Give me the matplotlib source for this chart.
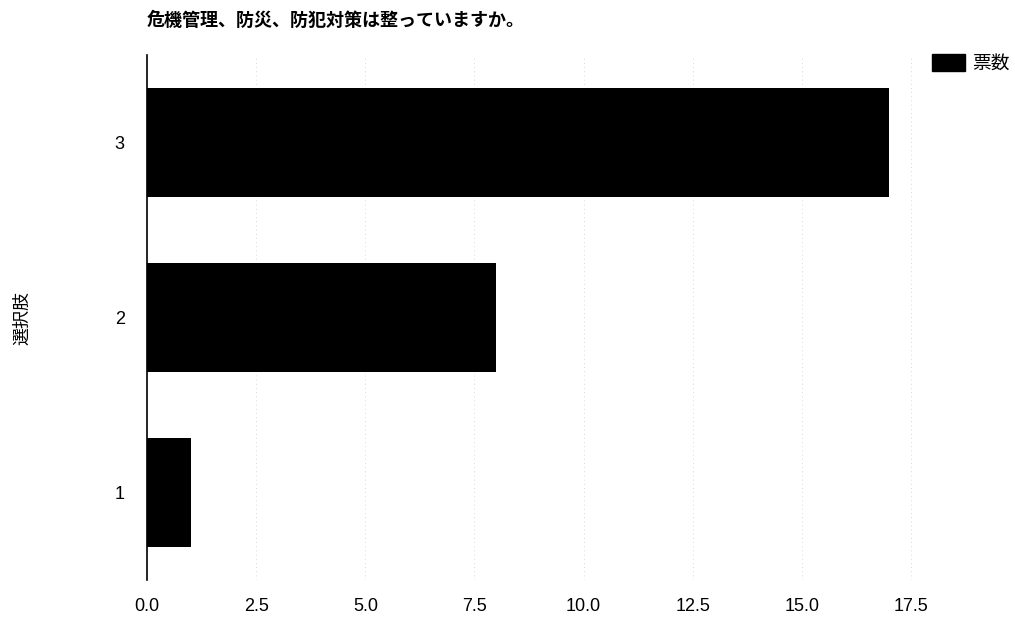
import matplotlib
matplotlib.use("Agg")
import matplotlib.pyplot as plt
from matplotlib.patches import Patch

plt.rcParams['font.family'] = ['Liberation Sans', 'Noto Sans CJK JP', 'DejaVu Sans']

categories = ["1", "2", "3"]
votes = [1, 8, 17]
xticks = [0.0, 2.5, 5.0, 7.5, 10.0, 12.5, 15.0, 17.5]
title = "危機管理、防災、防犯対策は整っていますか。"
ylabel = "選択肢"
legend_label = "票数"

W, H = 1015, 618
fig = plt.figure(figsize=(W / 100, H / 100), dpi=100)
L, R, T, B = 147, 957, 55, 580
ax = fig.add_axes([L / W, 1 - B / H, (R - L) / W, (B - T) / H])

ypos = [1, 2, 3]
ax.barh(ypos, votes, height=0.62, color="black", zorder=2)
ax.set_ylim(0.5, 3.5)
ax.set_xlim(0, 18.55)
ax.set_yticks(ypos)
ax.set_yticklabels(categories, fontsize=13)
ax.set_xticks(xticks)
ax.set_xticklabels([f"{v:.1f}" for v in xticks], fontsize=13)
ax.tick_params(axis='both', length=0)
ax.tick_params(axis='x', pad=13)
ax.tick_params(axis='y', pad=16)

for s in ["top", "right", "bottom"]:
    ax.spines[s].set_visible(False)
ax.spines["left"].set_linewidth(1.2)
ax.spines["left"].set_color("black")

ax.grid(axis='x', linestyle=(0, (1, 4)), color="#cccccc", linewidth=0.6, zorder=0)
ax.set_axisbelow(True)

fig.text(L / W, 1 - 20 / H, title, fontsize=13, fontweight='bold',
         ha='left', va='center', family=['Noto Sans CJK JP', 'DejaVu Sans'])
fig.text(22 / W, 1 - 318 / H, ylabel, fontsize=13, rotation=90,
         ha='center', va='center', family=['Noto Sans CJK JP', 'DejaVu Sans'])

leg = fig.legend(handles=[Patch(facecolor='black', edgecolor='black', label=legend_label)],
                 loc='upper right', bbox_to_anchor=(1027 / W, 1 - 36 / H),
                 frameon=False, handlelength=1.75, handleheight=1.05,
                 handletextpad=0.4,
                 prop={'family': ['Noto Sans CJK JP', 'DejaVu Sans'], 'size': 13.5})

fig.savefig("out.png", dpi=100, facecolor="white")
